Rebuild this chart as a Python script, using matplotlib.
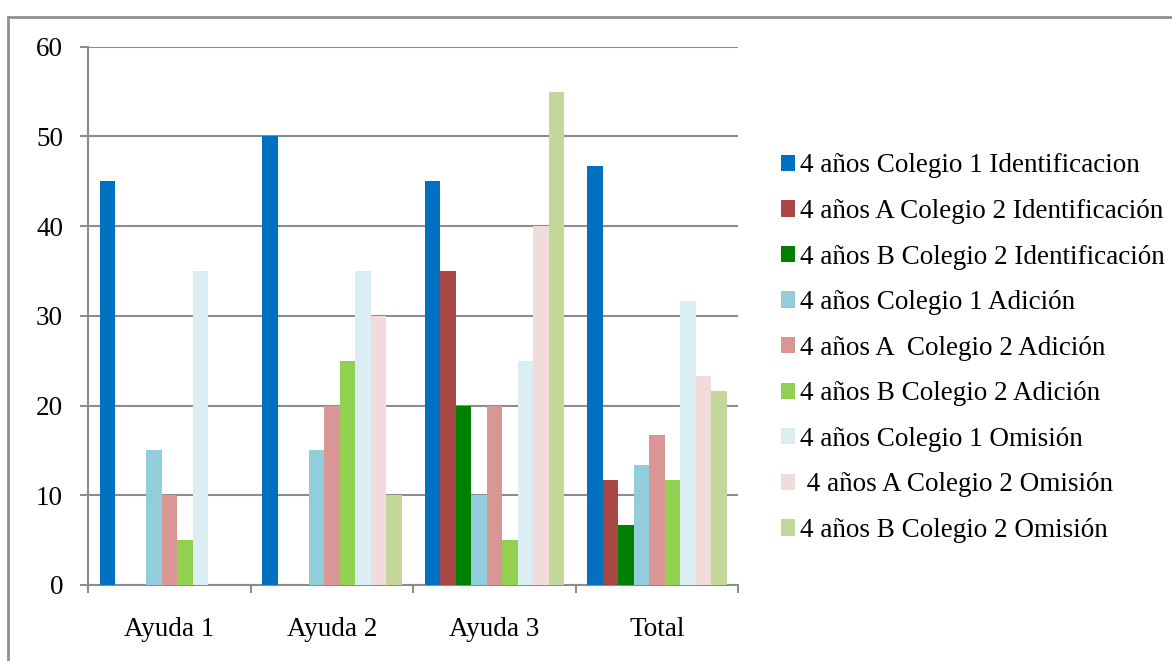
import numpy as np
import matplotlib
matplotlib.use('Agg')
import matplotlib.pyplot as plt
from matplotlib.lines import Line2D
from matplotlib.patches import Patch

plt.rcParams['font.family'] = 'Liberation Serif'

# Data
groups = ['Ayuda 1', 'Ayuda 2', 'Ayuda 3', 'Total']
series = [
    '4 años Colegio 1 Identificacion',
    '4 años A Colegio 2 Identificación',
    '4 años B Colegio 2 Identificación',
    '4 años Colegio 1 Adición',
    '4 años A  Colegio 2 Adición',
    '4 años B Colegio 2 Adición',
    '4 años Colegio 1 Omisión',
    ' 4 años A Colegio 2 Omisión',
    '4 años B Colegio 2 Omisión',
]
c1_ident = [45, 50, 45, 46.67]
a_ident = [0, 0, 35, 11.67]
b_ident = [0, 0, 20, 6.67]
c1_adic = [15, 15, 10, 13.33]
a_adic = [10, 20, 20, 16.67]
b_adic = [5, 25, 5, 11.67]
c1_omis = [35, 35, 25, 31.67]
a_omis = [0, 30, 40, 23.33]
b_omis = [0, 10, 55, 21.67]
values = [c1_ident, a_ident, b_ident, c1_adic, a_adic, b_adic, c1_omis, a_omis, b_omis]

colors = ['#0070C0', '#A94744', '#008000', '#92CDDC', '#DA9694',
          '#92D050', '#DAEEF3', '#F2DCDB', '#C4D79B']

fig = plt.figure(figsize=(11.72, 6.61), dpi=100)
ax = fig.add_axes([0.0751, 0.115, 0.5546, 0.8143])

x = np.arange(len(groups))
w = 0.0954
n = len(series)
for i, (vals, col) in enumerate(zip(values, colors)):
    ax.bar(x + (i - (n - 1) / 2) * w, vals, width=w, color=col, zorder=3)

grid_col = '#8C8C8C'
ax.set_xlim(-0.5, len(groups) - 0.5)
ax.set_ylim(0, 60)
ax.set_yticks(range(0, 61, 10))
ax.yaxis.grid(True, color=grid_col, linewidth=1.5, zorder=0)
for s in ['top', 'right']:
    ax.spines[s].set_visible(False)
for s in ['left', 'bottom']:
    ax.spines[s].set_color(grid_col)
    ax.spines[s].set_linewidth(1.5)

ax.set_xticks(x)
ax.set_xticklabels(groups)
ax.set_xticks(np.arange(-0.5, len(groups), 1), minor=True)
ax.tick_params(axis='x', which='major', length=0, pad=23, labelsize=19.5)
ax.tick_params(axis='x', which='minor', length=6, width=1.5, color=grid_col)
ax.tick_params(axis='y', length=6, width=1.5, color=grid_col, pad=12, labelsize=19.5)

handles = [Patch(facecolor=c, edgecolor='none') for c in colors]
fig.legend(handles, series, loc='upper left', bbox_to_anchor=(0.666, 0.768),
           frameon=False, fontsize=19.5, handlelength=0.55, handleheight=0.55,
           handletextpad=0.15, labelspacing=0.76, borderpad=0, borderaxespad=0)

# outer chart border (top and left edges)
fig.add_artist(Line2D([0.0068, 0.0068], [0, 0.9743], color='#909090', linewidth=2,
                      transform=fig.transFigure))
fig.add_artist(Line2D([0.0068, 1], [0.9743, 0.9743], color='#909090', linewidth=2,
                      transform=fig.transFigure))

fig.savefig('out.png', dpi=100)
